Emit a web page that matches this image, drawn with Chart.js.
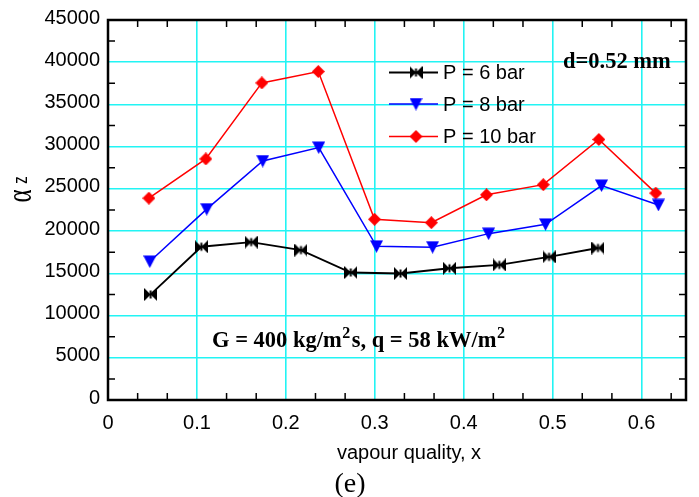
<!DOCTYPE html>
<html>
<head>
<meta charset="utf-8">
<script src="https://cdn.jsdelivr.net/npm/chart.js@4.4.0/dist/chart.umd.min.js"></script>
<style>
  html, body { margin: 0; padding: 0; background: #fff; }
  #wrap { width: 699px; height: 497px; }
</style>
</head>
<body>
<div id="wrap"><canvas id="c" width="699" height="497"></canvas></div>
<script>
// Heat transfer coefficient vs vapour quality, three pressures
const seriesLabels = ['P = 6 bar', 'P = 8 bar', 'P = 10 bar'];

const xP6  = [0.048, 0.105, 0.161, 0.217, 0.273, 0.329, 0.384, 0.440, 0.496, 0.551];
const aP6  = [12500, 18150, 18700, 17750, 15100, 14980, 15600, 16000, 16950, 18000];

const xP8  = [0.047, 0.111, 0.174, 0.237, 0.302, 0.365, 0.428, 0.492, 0.555, 0.619];
const aP8  = [16400, 22600, 28300, 29900, 18200, 18100, 19700, 20800, 25400, 23100];

const xP10 = [0.046, 0.110, 0.173, 0.2365, 0.2997, 0.3636, 0.4256, 0.4895, 0.552, 0.616];
const aP10 = [23900, 28550, 37550, 38900, 21400, 21000, 24300, 25500, 30850, 24500];

const xTicks = [0, 0.1, 0.2, 0.3, 0.4, 0.5, 0.6];
const yTicks = [0, 5000, 10000, 15000, 20000, 25000, 30000, 35000, 40000, 45000];
const xMinorTicks = [1/30, 2/30, 4/30, 5/30, 7/30, 8/30, 10/30, 11/30, 13/30, 14/30, 16/30, 17/30, 19/30];
const yMinorTicks = [2500, 7500, 12500, 17500, 22500, 27500, 32500, 37500, 42500];

const xTitle = 'vapour quality, x';
const panelTag = '(e)';
const diameterNote = 'd=0.52 mm';

const SANS = '"Liberation Sans", Arial, sans-serif';
const SERIF = '"Liberation Serif", "Times New Roman", serif';
const GRID = '#22f4f4';

// marker sprites
function sprite(w, h, paint) {
  const c = document.createElement('canvas');
  c.width = w; c.height = h;
  const g = c.getContext('2d');
  paint(g, w, h);
  return c;
}
const tieImg = sprite(13, 13, (g, w, h) => {
  g.fillStyle = '#000';
  g.beginPath();
  g.moveTo(0, 0); g.lineTo(w / 2, h / 2); g.lineTo(0, h); g.closePath();
  g.moveTo(w, 0); g.lineTo(w / 2, h / 2); g.lineTo(w, h); g.closePath();
  g.fill();
  g.fillRect(w / 2 - 1, 2.5, 2, h - 5);
});
const triImg = sprite(13, 13, (g, w, h) => {
  g.fillStyle = '#0000ff';
  g.beginPath();
  g.moveTo(0, 0.5); g.lineTo(w, 0.5); g.lineTo(w / 2, h); g.closePath();
  g.fill();
});
const diaImg = sprite(13, 13, (g, w, h) => {
  g.fillStyle = '#ff0000';
  g.beginPath();
  g.moveTo(0, h / 2); g.lineTo(w / 2, 0); g.lineTo(w, h / 2); g.lineTo(w / 2, h);
  g.closePath(); g.fill();
});

function pts(xs, ys) { return xs.map((v, i) => ({ x: v, y: ys[i] })); }

const datasets = [
  { label: seriesLabels[0], data: pts(xP6, aP6), borderColor: '#000', backgroundColor: '#000',
    pointStyle: tieImg, borderWidth: 1.8 },
  { label: seriesLabels[1], data: pts(xP8, aP8), borderColor: '#0000ff', backgroundColor: '#0000ff',
    pointStyle: triImg, borderWidth: 1.5 },
  { label: seriesLabels[2], data: pts(xP10, aP10), borderColor: '#ff0000', backgroundColor: '#ff0000',
    pointStyle: diaImg, borderWidth: 1.5 }
].map(d => Object.assign({ showLine: true, fill: false, tension: 0, pointRadius: 6.5,
                           pointHoverRadius: 6.5 }, d));

const decor = {
  id: 'decor',
  afterDatasetsDraw(chart) {
    const { ctx, chartArea: a, scales: { x, y } } = chart;
    ctx.save();

    // inward minor ticks on all four sides
    ctx.strokeStyle = '#000';
    ctx.lineWidth = 1.5;
    ctx.beginPath();
    for (const v of xMinorTicks) {
      const px = x.getPixelForValue(v);
      ctx.moveTo(px, a.top); ctx.lineTo(px, a.top + 7);
      ctx.moveTo(px, a.bottom); ctx.lineTo(px, a.bottom - 7);
    }
    for (const v of yMinorTicks) {
      const py = y.getPixelForValue(v);
      ctx.moveTo(a.left, py); ctx.lineTo(a.left + 7, py);
      ctx.moveTo(a.right, py); ctx.lineTo(a.right - 7, py);
    }
    ctx.stroke();

    // frame
    ctx.lineWidth = 2.5;
    ctx.strokeRect(a.left, a.top, a.right - a.left, a.bottom - a.top);

    // legend
    const rows = [72.5, 104, 136.5];
    chart.data.datasets.forEach((d, i) => {
      const ry = rows[i];
      ctx.strokeStyle = d.borderColor;
      ctx.lineWidth = d.borderWidth;
      ctx.beginPath(); ctx.moveTo(389, ry); ctx.lineTo(438, ry); ctx.stroke();
      const img = d.pointStyle;
      ctx.drawImage(img, 416 - img.width / 2, ry - img.height / 2);
      ctx.fillStyle = '#000';
      ctx.font = '20px ' + SANS;
      ctx.textBaseline = 'middle';
      ctx.textAlign = 'left';
      ctx.fillText(d.label, 443, ry + 1);
    });

    // notes
    ctx.fillStyle = '#000';
    ctx.textBaseline = 'alphabetic';
    ctx.textAlign = 'left';
    ctx.font = 'bold 22.5px ' + SERIF;
    ctx.fillText(diameterNote, 563, 68);

    // flow conditions with superscripts
    const parts = [['G = 400 kg/m', 0], ['2', 1], ['s, q = 58 kW/m', 0], ['2', 1]];
    let cx = 212;
    for (const [t, sup] of parts) {
      ctx.font = sup ? 'bold 16px ' + SERIF : 'bold 22.5px ' + SERIF;
      ctx.fillText(t, cx, sup ? 338 : 347);
      cx += ctx.measureText(t).width + (sup ? 1.5 : 0.5);
    }

    // x-axis title and panel tag
    ctx.font = '20px ' + SANS;
    ctx.textAlign = 'center';
    ctx.fillText(xTitle, 409, 459);
    ctx.font = '28px ' + SERIF;
    ctx.fillText(panelTag, 350, 492);

    // y-axis title: alpha with subscript z, rotated
    ctx.translate(31, 196);
    ctx.rotate(-Math.PI / 2);
    ctx.textAlign = 'center';
    ctx.save();
    ctx.scale(1, 1.4);
    ctx.font = '25px ' + SERIF;
    ctx.fillText('\u03B1', 0, 0);
    ctx.restore();
    ctx.save();
    ctx.translate(16, -4);
    ctx.scale(1, 1.3);
    ctx.font = '15px ' + SANS;
    ctx.fillText('z', 0, 0);
    ctx.restore();

    ctx.restore();
  }
};

new Chart(document.getElementById('c'), {
  type: 'scatter',
  data: { datasets },
  options: {
    responsive: false,
    animation: false,
    devicePixelRatio: 1,
    layout: { padding: { top: 17, right: 13, left: 0, bottom: 0 } },
    plugins: { legend: { display: false }, tooltip: { enabled: false } },
    scales: {
      x: {
        type: 'linear', min: 0, max: 0.65,
        afterBuildTicks: s => { s.ticks = xTicks.map(v => ({ value: v })); },
        afterFit: s => { s.height = 97; },
        grid: { color: GRID, lineWidth: 1.6, drawTicks: false },
        border: { display: false },
        ticks: { color: '#000', font: { family: SANS, size: 20 }, padding: 11, maxRotation: 0,
                 callback: v => String(Math.round(v * 10) / 10) }
      },
      y: {
        type: 'linear', min: 0, max: 45000,
        afterBuildTicks: s => { s.ticks = yTicks.map(v => ({ value: v })); },
        afterFit: s => { s.width = 108; },
        grid: { color: GRID, lineWidth: 1.6, drawTicks: false },
        border: { display: false },
        ticks: { color: '#000', font: { family: SANS, size: 20 }, padding: 8, labelOffset: -2,
                 callback: v => String(v) }
      }
    }
  },
  plugins: [decor]
});
</script>
</body>
</html>
